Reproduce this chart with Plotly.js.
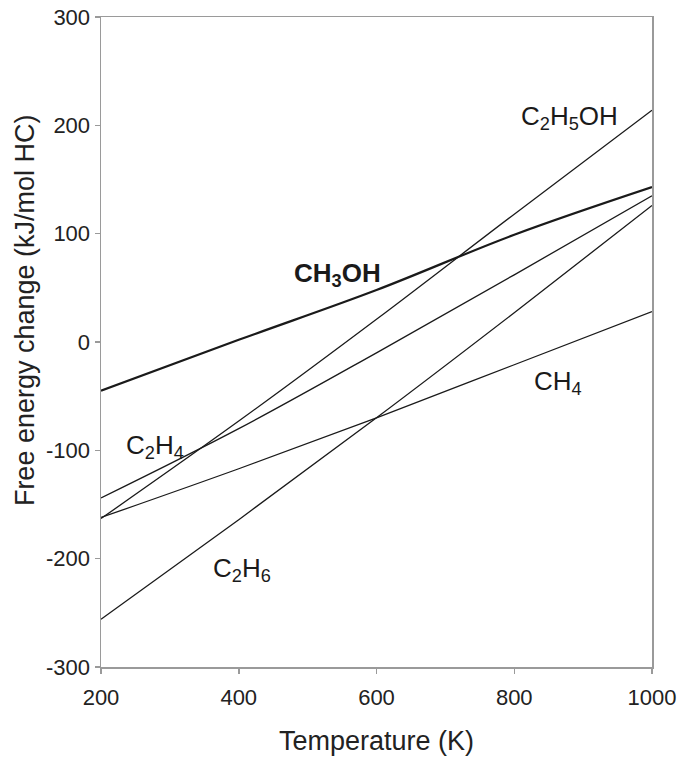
<!DOCTYPE html>
<html>
<head>
<meta charset="utf-8">
<script src="https://cdn.plot.ly/plotly-3.0.1.min.js"></script>
<style>html,body{margin:0;padding:0;background:#fff;}#chart{width:687px;height:758px;}</style>
</head>
<body>
<div id="chart"></div>
<script>
// Temperature (K)
const temperature = [200, 400, 600, 800, 1000];
// Free energy change (kJ/mol HC)
const ch3oh  = [-45, 2, 48, 99, 143];
const c2h5oh = [-163, -73, 21, 118, 214];
const c2h4   = [-144, -80, -10, 62, 135];
const ch4    = [-162, -117, -70, -21, 28];
const c2h6   = [-256, -164, -70, 27, 126];

const seriesNames = ["CH3OH", "C2H5OH", "C2H4", "CH4", "C2H6"];
const seriesValues = [ch3oh, c2h5oh, c2h4, ch4, c2h6];
const seriesWidths = [2.2, 1.3, 1.3, 1.3, 1.3];

const labelText = ["<b>CH<sub>3</sub>OH</b>", "C<sub>2</sub>H<sub>5</sub>OH", "C<sub>2</sub>H<sub>4</sub>", "CH<sub>4</sub>", "C<sub>2</sub>H<sub>6</sub>"];
const labelX = [543, 880, 278, 864, 404];
const labelY = [62, 207, -96, -37, -210];

const xTicks = [200, 400, 600, 800, 1000];
const yTicks = [-300, -200, -100, 0, 100, 200, 300];

const FONT = "Liberation Sans, Arial, sans-serif";

const traces = seriesNames.map((n, i) => ({
  x: temperature, y: seriesValues[i], name: n, type: "scatter", mode: "lines",
  line: {color: "#1a1a1a", width: seriesWidths[i], shape: "spline", smoothing: 1},
  hoverinfo: "skip", showlegend: false
}));

const annotations = labelText.map((t, i) => ({
  x: labelX[i], y: labelY[i], xref: "x", yref: "y", text: t, showarrow: false,
  xanchor: "center", yanchor: "middle",
  font: {family: FONT, size: 26, color: "#1a1a1a"}
}));
annotations.push({
  x: -0.138, y: 0.549, xref: "paper", yref: "paper", textangle: -90,
  text: "Free energy change (kJ/mol HC)", showarrow: false,
  xanchor: "center", yanchor: "middle",
  font: {family: FONT, size: 27, color: "#222"}
});

const axisCommon = {
  showline: true, mirror: true, linecolor: "#9a9a9a", linewidth: 1.5,
  ticks: "outside", ticklen: 5, tickcolor: "#9a9a9a", tickwidth: 1.5,
  showgrid: false, zeroline: false,
  tickfont: {family: FONT, size: 22, color: "#222"}
};

const layout = {
  width: 687, height: 758,
  margin: {l: 101, r: 35, t: 17, b: 91},
  paper_bgcolor: "#fff", plot_bgcolor: "#fff",
  xaxis: Object.assign({}, axisCommon, {
    range: [200, 1000], tickvals: xTicks, ticktext: xTicks.map(String),
    ticklabelstandoff: 5,
    title: {text: "Temperature (K)", standoff: 22,
      font: {family: FONT, size: 27, color: "#222"}}
  }),
  yaxis: Object.assign({}, axisCommon, {
    range: [-300, 300], tickvals: yTicks, ticktext: yTicks.map(String)
  }),
  annotations: annotations
};

Plotly.newPlot("chart", traces, layout, {displayModeBar: false, staticPlot: true});
</script>
</body>
</html>
